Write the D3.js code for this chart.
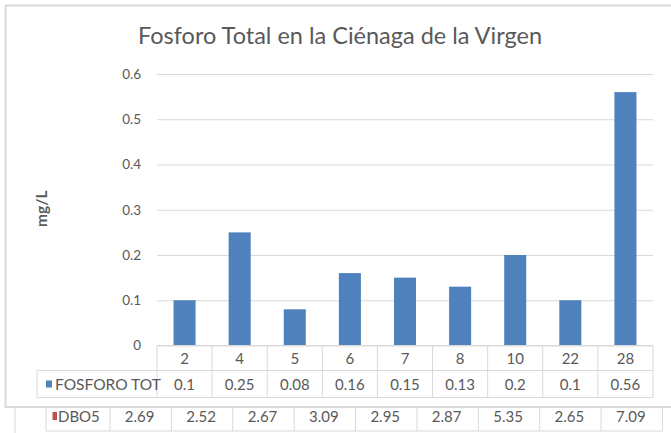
<!DOCTYPE html>
<html>
<head>
<meta charset="utf-8">
<script src="https://cdn.jsdelivr.net/npm/d3@7"></script>
<style>
  body { margin: 0; background: #fff; }
  svg { display: block; font-family: Lato, "Open Sans", sans-serif; }
</style>
</head>
<body>
<svg></svg>
<script>
const categories = ['2', '4', '5', '6', '7', '8', '10', '22', '28']
const fosforo = [0.1, 0.25, 0.08, 0.16, 0.15, 0.13, 0.2, 0.1, 0.56]
const dbo5 = [2.69, 2.52, 2.67, 3.09, 2.95, 2.87, 5.35, 2.65, 7.09]
const yTicks = [0, 0.1, 0.2, 0.3, 0.4, 0.5, 0.6]
const seriesName = 'FOSFORO TOT'
const otherName = 'DBO5'
const title = 'Fosforo Total en la Ciénaga de la Virgen'
const yTitle = 'mg/L'

let width = 671
let height = 433
let plot = { left: 157, right: 653, top: 74, bottom: 345.5 }
let rowH = [25, 27]
let textColor = '#595959'
let lineColor = '#d9d9d9'
let blue = '#4f81bd'
let red = '#c0504d'

let svg = d3.select('svg')
  .attr('width', width)
  .attr('height', height)

// chart frame (right edge runs off the picture)
svg.append('rect')
  .attr('x', 5.5).attr('y', 5.5)
  .attr('width', 700).attr('height', 401.5)
  .attr('fill', 'none')
  .attr('stroke', lineColor)
  .attr('stroke-width', 2)

svg.append('text')
  .attr('x', 340).attr('y', 44)
  .attr('text-anchor', 'middle')
  .attr('fill', textColor)
  .attr('font-size', 23.5)
  .text(title)

let x = d3.scaleBand()
  .domain(categories)
  .range([plot.left, plot.right])
  .paddingInner(0)

let y = d3.scaleLinear()
  .domain([0, 0.6])
  .range([plot.bottom, plot.top])

let yAxis = svg.append('g')
  .attr('transform', `translate(${plot.left},0)`)
  .call(d3.axisLeft(y)
    .tickValues(yTicks)
    .tickSize(-(plot.right - plot.left))
    .tickPadding(16)
    .tickFormat(d => d3.format('')(+d.toFixed(1))))

yAxis.select('.domain').remove()
yAxis.selectAll('line').attr('stroke', lineColor)
yAxis.selectAll('text')
  .attr('fill', textColor)
  .attr('font-size', 13.5)
  .attr('font-family', 'Lato, sans-serif')

svg.append('text')
  .attr('transform', `translate(47, ${(plot.top + plot.bottom) / 2 - 1}) rotate(-90)`)
  .attr('text-anchor', 'middle')
  .attr('fill', textColor)
  .attr('font-size', 15.5)
  .attr('font-weight', 'bold')
  .text(yTitle)

let bw = x.bandwidth() / 2.5
svg.append('g')
  .selectAll('rect')
  .data(fosforo)
  .enter()
  .append('rect')
    .attr('x', (d, i) => x(categories[i]) + (x.bandwidth() - bw) / 2)
    .attr('y', d => y(d))
    .attr('width', bw)
    .attr('height', d => y(0) - y(d))
    .attr('fill', blue)

// data table under the axis
let table = svg.append('g')
let r1 = plot.bottom
let r2 = r1 + rowH[0]
let r3 = r2 + rowH[1]
let tableLeft = 37

function hline(g, x1, x2, yy) {
  g.append('line').attr('x1', x1).attr('x2', x2).attr('y1', yy).attr('y2', yy)
    .attr('stroke', lineColor)
}
function vline(g, xx, y1, y2) {
  g.append('line').attr('x1', xx).attr('x2', xx).attr('y1', y1).attr('y2', y2)
    .attr('stroke', lineColor)
}

hline(table, plot.left, plot.right, r1)
hline(table, tableLeft, plot.right, r2)
hline(table, tableLeft, plot.right, r3)
vline(table, tableLeft, r2, r3)
categories.forEach(c => vline(table, x(c), r1, r3))
vline(table, plot.right, r1, r3)

table.selectAll('.cat')
  .data(categories)
  .enter()
  .append('text')
    .attr('x', d => x(d) + x.bandwidth() / 2)
    .attr('y', r1 + rowH[0] / 2 + 5.5)
    .attr('text-anchor', 'middle')
    .attr('fill', textColor)
    .attr('font-size', 15)
    .text(d => d)

table.selectAll('.val')
  .data(fosforo)
  .enter()
  .append('text')
    .attr('x', (d, i) => x(categories[i]) + x.bandwidth() / 2)
    .attr('y', r2 + rowH[1] / 2 + 5.5)
    .attr('text-anchor', 'middle')
    .attr('fill', textColor)
    .attr('font-size', 15)
    .text(d => d)

table.append('rect')
  .attr('x', 46).attr('y', r2 + rowH[1] / 2 - 3.5)
  .attr('width', 6).attr('height', 7)
  .attr('fill', blue)
table.append('text')
  .attr('x', 55).attr('y', r2 + rowH[1] / 2 + 5.5)
  .attr('fill', textColor)
  .attr('font-size', 15.5)
  .text(seriesName)

// row of the next table peeking in below the frame
let x2 = d3.scaleBand()
  .domain(categories)
  .range([110, 662.5])
let lower = svg.append('g')
let l1 = 407
let l2 = 431
vline(lower, 15, l1, height)
vline(lower, 46, l1, l2)
categories.forEach(c => vline(lower, x2(c), l1, l2))
vline(lower, 662.5, l1, l2)
hline(lower, 46, 662.5, l2)

lower.selectAll('.dbo')
  .data(dbo5)
  .enter()
  .append('text')
    .attr('x', (d, i) => x2(categories[i]) + x2.bandwidth() / 2 - 1)
    .attr('y', l1 + 14.5)
    .attr('text-anchor', 'middle')
    .attr('fill', textColor)
    .attr('font-size', 15)
    .text(d => d3.format('.2f')(d))

lower.append('rect')
  .attr('x', 52.5).attr('y', l1 + 5)
  .attr('width', 4.5).attr('height', 8)
  .attr('fill', red)
lower.append('text')
  .attr('x', 58).attr('y', l1 + 14.5)
  .attr('fill', textColor)
  .attr('font-size', 15)
  .text(otherName)
</script>
</body>
</html>
